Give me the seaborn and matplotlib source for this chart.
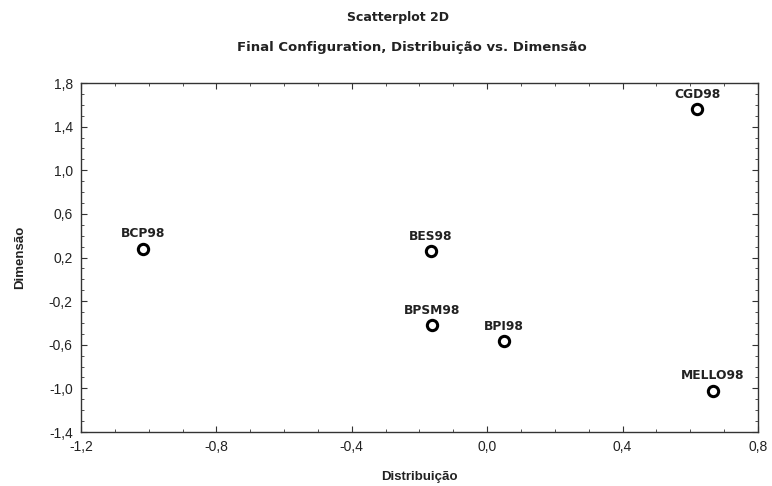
import matplotlib
matplotlib.use("Agg")
import matplotlib.pyplot as plt
import seaborn as sns
import pandas as pd
from matplotlib.ticker import FixedLocator, FixedFormatter, MultipleLocator

sns.set_theme(style="white")
plt.rcParams['font.family'] = ['Liberation Sans', 'DejaVu Sans']

names = ["BCP98", "BES98", "CGD98", "BPSM98", "BPI98", "MELLO98"]
distribuicao = [-1.017, -0.166, 0.62, -0.163, 0.05, 0.667]
dimensao = [0.28, 0.26, 1.56, -0.42, -0.57, -1.02]

xticks = [-1.2, -0.8, -0.4, 0.0, 0.4, 0.8]
xticklabels = ["-1,2", "-0,8", "-0,4", "0,0", "0,4", "0,8"]
yticks = [-1.4, -1.0, -0.6, -0.2, 0.2, 0.6, 1.0, 1.4, 1.8]
yticklabels = ["-1,4", "-1,0", "-0,6", "-0,2", "0,2", "0,6", "1,0", "1,4", "1,8"]

df = pd.DataFrame({"name": names, "x": distribuicao, "y": dimensao})

fig = plt.figure(figsize=(7.72, 4.86), dpi=100)
ax = fig.add_axes([81/772, 1-432/486, (758-81)/772, (432-83)/486])

sns.scatterplot(data=df, x="x", y="y", ax=ax, marker="o", s=55,
                facecolor="white", edgecolor="black", linewidth=2.2, zorder=3)

for n, xv, yv in zip(names, distribuicao, dimensao):
    ax.annotate(n, (xv, yv), xytext=(0, 6), textcoords="offset points",
                ha="center", va="bottom", fontsize=8.8, fontweight="bold",
                color="#222222", family=["DejaVu Sans"])

ax.set_xlim(-1.2, 0.8)
ax.set_ylim(-1.4, 1.8)
ax.xaxis.set_major_locator(FixedLocator(xticks))
ax.xaxis.set_major_formatter(FixedFormatter(xticklabels))
ax.yaxis.set_major_locator(FixedLocator(yticks))
ax.yaxis.set_major_formatter(FixedFormatter(yticklabels))
ax.xaxis.set_minor_locator(MultipleLocator(0.1))
ax.yaxis.set_minor_locator(MultipleLocator(0.1))
ax.tick_params(which="both", direction="in", top=True, right=True,
               bottom=True, left=True, color="#333333", labelsize=10,
               labelcolor="#222222")
ax.tick_params(which="major", length=4, width=0.8, pad=6)
ax.tick_params(which="minor", length=2, width=0.6)
for s in ax.spines.values():
    s.set_color("#333333")
    s.set_linewidth(1.0)

ax.set_xlabel("Distribuição", fontsize=9.5, fontweight="bold", color="#222222", labelpad=12)
ax.set_ylabel("Dimensão", fontsize=9.5, fontweight="bold", color="#222222", labelpad=16)

fig.text(398/772, 1 - 18/486, "Scatterplot 2D", ha="center", va="center",
         fontsize=9, fontweight="bold", color="#222222", family=["DejaVu Sans"])
fig.text(412/772, 1 - 47/486, "Final Configuration, Distribuição vs. Dimensão",
         ha="center", va="center", fontsize=9.5, fontweight="bold", color="#222222",
         family=["DejaVu Sans"])

fig.savefig("out.png", dpi=100)
